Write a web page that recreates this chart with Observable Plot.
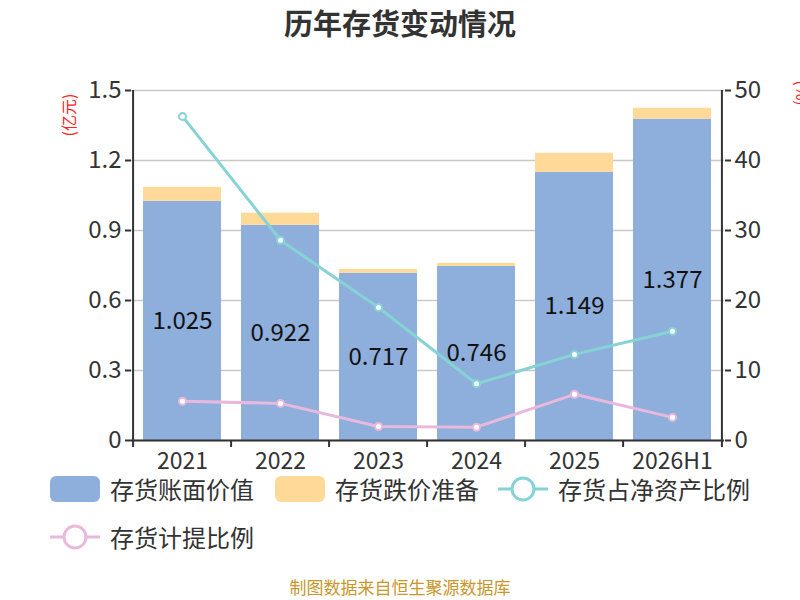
<!DOCTYPE html>
<html>
<head>
<meta charset="utf-8">
<script src="https://cdn.jsdelivr.net/npm/d3@7"></script>
<script src="https://cdn.jsdelivr.net/npm/@observablehq/plot@0.6"></script>
<style>
  html, body { margin: 0; padding: 0; background: #fff; }
  body { font-family: "Noto Sans CJK SC", "Noto Sans", sans-serif; }
  #wrap { position: relative; width: 800px; height: 600px; overflow: hidden; }
  #chart { position: absolute; left: 0; top: 0; }
  .abs { position: absolute; white-space: nowrap; }
  #title { left: 0; width: 800px; top: 2px; text-align: center; font-size: 29px; font-weight: bold; color: #333; line-height: 40px; }
  #caption { left: 0; width: 800px; top: 577px; text-align: center; font-size: 17px; color: #c9962a; line-height: 20px; }
  .leg { font-size: 24px; color: #333; line-height: 26px; }
  .swatch { position: absolute; width: 50px; height: 26px; border-radius: 6px; }
  .ylab { color: #ff2020; font-size: 16px; transform: rotate(-90deg); transform-origin: center; }
</style>
</head>
<body>
<div id="wrap">
  <div id="chart"></div>
  <div id="title" class="abs">历年存货变动情况</div>
  <div id="leftLabel" class="abs ylab" style="left:38px; top:104px; width:60px; text-align:center; line-height:22px;">(亿元)</div>
  <div id="rightLabel" class="abs ylab" style="left:788px; top:82px; width:30px; text-align:center; line-height:22px; transform: rotate(90deg);">(%)</div>
  <div id="legend"></div>
  <div id="caption" class="abs">制图数据来自恒生聚源数据库</div>
</div>
<script>
// ---- data ----
const years = ["2021", "2022", "2023", "2024", "2025", "2026H1"];
const bookValue = [1.025, 0.922, 0.717, 0.746, 1.149, 1.377];   // 存货账面价值 (亿元)
const reserve = [0.060, 0.052, 0.016, 0.013, 0.082, 0.047];     // 存货跌价准备 (亿元)
const netAssetRatio = [46.3, 28.6, 19.0, 8.1, 12.3, 15.6];       // 存货占净资产比例 (%)
const provisionRatio = [5.6, 5.3, 2.0, 1.9, 6.6, 3.3];           // 存货计提比例 (%)
const leftTicks = [0, 0.3, 0.6, 0.9, 1.2, 1.5];
const rightTicks = [0, 10, 20, 30, 40, 50];
const seriesNames = ["存货账面价值", "存货跌价准备", "存货占净资产比例", "存货计提比例"];
const colors = ["#8eaedb", "#ffd998", "#86d3d6", "#e8b9dc"];

// ---- layout ----
const W = 800, H = 475, mL = 131, mR = 76, mT = 90, mB = 35;
const step = (W - mL - mR) / years.length;
const leftMax = 1.5, rightMax = 50;
const k = leftMax / rightMax;

const stacked = years.flatMap((y, i) => [
  {year: y, series: seriesNames[0], value: bookValue[i]},
  {year: y, series: seriesNames[1], value: reserve[i]}
]);
const rows = years.map((y, i) => ({year: y, book: bookValue[i], net: netAssetRatio[i], prov: provisionRatio[i]}));

const font = "Noto Sans CJK SC, Noto Sans, sans-serif";
const chart = Plot.plot({
  width: W, height: H,
  marginLeft: mL, marginRight: mR, marginTop: mT, marginBottom: mB,
  style: {fontFamily: font, background: "transparent", overflow: "visible"},
  x: {domain: years, paddingInner: 0.2, paddingOuter: 0.1},
  y: {domain: [0, leftMax]},
  color: {domain: seriesNames.slice(0, 2), range: colors.slice(0, 2)},
  marks: [
    Plot.gridY(leftTicks, {stroke: "#c8c8c8", strokeOpacity: 1, strokeWidth: 1.5}),
    Plot.barY(stacked, {x: "year", y: "value", fill: "series", order: seriesNames.slice(0, 2)}),
    Plot.text(rows, {x: "year", y: d => d.book / 2, text: d => d.book.toFixed(3), fontSize: 24, fill: "#111"}),
    Plot.line(rows, {x: "year", y: d => d.net * k, stroke: colors[2], strokeWidth: 3}),
    Plot.dot(rows, {x: "year", y: d => d.net * k, r: 3.5, fill: "white", stroke: colors[2], strokeWidth: 2}),
    Plot.line(rows, {x: "year", y: d => d.prov * k, stroke: colors[3], strokeWidth: 3}),
    Plot.dot(rows, {x: "year", y: d => d.prov * k, r: 3.5, fill: "white", stroke: colors[3], strokeWidth: 2}),
    // axis lines
    Plot.ruleY([0], {stroke: "#333", strokeWidth: 2}),
    Plot.ruleX([years[0]], {dx: -step / 2, y1: 0, y2: leftMax, stroke: "#333", strokeWidth: 2}),
    Plot.ruleX([years[years.length - 1]], {dx: step / 2, y1: 0, y2: leftMax, stroke: "#333", strokeWidth: 2}),
    // category boundary ticks
    Plot.ruleX(years, {dx: -step / 2, y1: 0, y2: -0.03, stroke: "#333", strokeWidth: 2}),
    Plot.ruleX([years[years.length - 1]], {dx: step / 2, y1: 0, y2: -0.03, stroke: "#333", strokeWidth: 2}),
    Plot.axisX({fontSize: 23, tickSize: 0, tickPadding: 12, fill: "#333", label: null}),
    Plot.axisY(leftTicks, {anchor: "left", tickFormat: d => d === 0 ? "0" : d.toFixed(1), fontSize: 24, tickSize: 6, tickPadding: 4, stroke: "#333", strokeWidth: 2, fill: "#333", label: null}),
    Plot.axisY(rightTicks.map(v => v * k), {anchor: "right", tickFormat: d => String(Math.round(d / k)), fontSize: 24, tickSize: 6, tickPadding: 4, stroke: "#333", strokeWidth: 2, fill: "#333", label: null})
  ]
});
document.getElementById("chart").appendChild(chart);

// ---- legend ----
const legend = document.getElementById("legend");
const items = [
  {name: seriesNames[0], type: "rect", color: colors[0], x: 50, y: 489},
  {name: seriesNames[1], type: "rect", color: colors[1], x: 275, y: 489},
  {name: seriesNames[2], type: "line", color: colors[2], x: 498, y: 489},
  {name: seriesNames[3], type: "line", color: colors[3], x: 50, y: 537}
];
for (const it of items) {
  if (it.type === "rect") {
    const s = document.createElement("div");
    s.className = "swatch";
    s.style.left = it.x + "px";
    s.style.top = (it.y - 13) + "px";
    s.style.background = it.color;
    legend.appendChild(s);
  } else {
    const ns = "http://www.w3.org/2000/svg";
    const svg = document.createElementNS(ns, "svg");
    svg.setAttribute("width", 50); svg.setAttribute("height", 28);
    svg.style.position = "absolute";
    svg.style.left = it.x + "px";
    svg.style.top = (it.y - 14) + "px";
    const ln = document.createElementNS(ns, "line");
    ln.setAttribute("x1", 0); ln.setAttribute("x2", 50); ln.setAttribute("y1", 14); ln.setAttribute("y2", 14);
    ln.setAttribute("stroke", it.color); ln.setAttribute("stroke-width", 3);
    const c = document.createElementNS(ns, "circle");
    c.setAttribute("cx", 25); c.setAttribute("cy", 14); c.setAttribute("r", 11);
    c.setAttribute("fill", "white"); c.setAttribute("stroke", it.color); c.setAttribute("stroke-width", 3);
    svg.appendChild(ln); svg.appendChild(c);
    legend.appendChild(svg);
  }
  const t = document.createElement("div");
  t.className = "abs leg";
  t.textContent = it.name;
  t.style.left = (it.x + 60) + "px";
  t.style.top = (it.y - 13) + "px";
  legend.appendChild(t);
}
</script>
</body>
</html>
